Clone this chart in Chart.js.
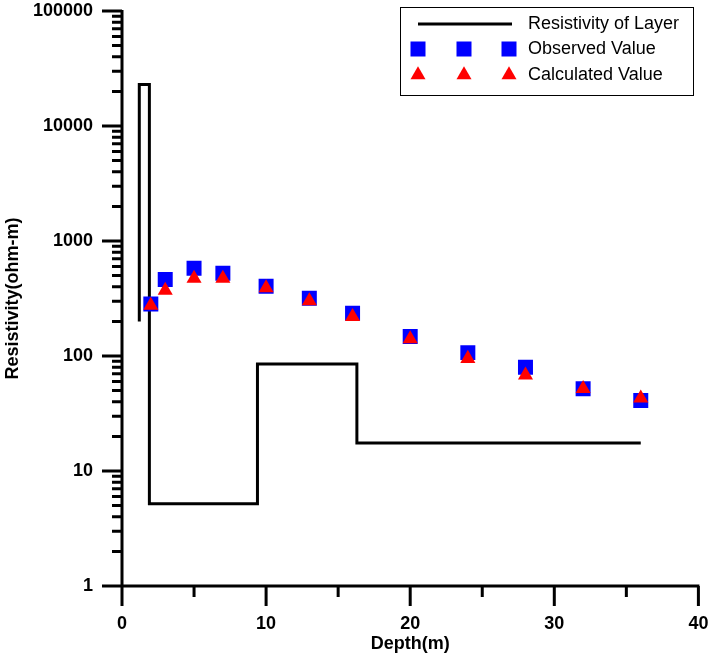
<!DOCTYPE html>
<html>
<head>
<meta charset="utf-8">
<script src="https://cdn.jsdelivr.net/npm/chart.js@4/dist/chart.umd.min.js"></script>
<style>
  html, body { margin: 0; padding: 0; background: #fff; }
  #wrap { width: 709px; height: 657px; }
</style>
</head>
<body>
<div id="wrap"><canvas id="resChart" width="709" height="657"></canvas></div>
<script>
// sounding data
var obsDepth = [2, 3, 5, 7, 10, 13, 16, 20, 24, 28, 32, 36];
var obsRes = [283, 462, 579, 524, 404, 318, 235, 148, 107, 80, 52, 41];
var calcRes = [275, 371, 473, 473, 391, 301, 220, 141, 95, 68, 52, 43];

// layer model (stepped line, vertical step first)
var layerDepth = [1.2, 1.9, 9.4, 16.3, 36];
var layerRes = [200, 23000, 5.2, 85, 17.5];

var xTicks = [0, 10, 20, 30, 40];
var xMinor = [5, 15, 25, 35];
var yTicks = [1, 10, 100, 1000, 10000, 100000];

var FONT = '"Liberation Sans", Arial, sans-serif';

function pts(xs, ys) {
    return xs.map(function(x, i) { return { x: x, y: ys[i] }; });
}

function noPad(scale) {
    scale.paddingTop = 0;
    scale.paddingBottom = 0;
    scale.paddingLeft = 0;
    scale.paddingRight = 0;
}

// thick axes with long major / short minor ticks, like the original plot
var axesPlugin = {
    id: 'axesPlugin',
    afterDraw: function(chart) {
        var ctx = chart.ctx;
        var xs = chart.scales.x, ys = chart.scales.y;
        var left = xs.getPixelForValue(0);
        var bottom = ys.getPixelForValue(1);
        ctx.save();
        ctx.strokeStyle = '#000';
        ctx.lineWidth = 3;
        ctx.lineCap = 'butt';
        ctx.beginPath();
        ctx.moveTo(left, ys.getPixelForValue(100000) - 1);
        ctx.lineTo(left, bottom);
        ctx.moveTo(left, bottom);
        ctx.lineTo(xs.getPixelForValue(40) + 1, bottom);
        // y ticks
        yTicks.forEach(function(v, i) {
            var p = ys.getPixelForValue(v);
            ctx.moveTo(left - 20, p);
            ctx.lineTo(left, p);
            if (i < yTicks.length - 1) {
                for (var m = 2; m <= 9; m++) {
                    var q = ys.getPixelForValue(v * m);
                    ctx.moveTo(left - 10, q);
                    ctx.lineTo(left, q);
                }
            }
        });
        // x ticks
        xTicks.forEach(function(v) {
            var p = xs.getPixelForValue(v);
            ctx.moveTo(p, bottom);
            ctx.lineTo(p, bottom + 20);
        });
        xMinor.forEach(function(v) {
            var p = xs.getPixelForValue(v);
            ctx.moveTo(p, bottom);
            ctx.lineTo(p, bottom + 11);
        });
        ctx.stroke();
        ctx.restore();
    }
};

// boxed legend with three markers per entry
var legendPlugin = {
    id: 'legendPlugin',
    afterDraw: function(chart) {
        var ctx = chart.ctx;
        ctx.save();
        ctx.strokeStyle = '#000';
        ctx.lineWidth = 1;
        ctx.strokeRect(400.5, 7.5, 293, 88);

        ctx.lineWidth = 3;
        ctx.beginPath();
        ctx.moveTo(418, 24);
        ctx.lineTo(512, 24);
        ctx.stroke();

        var mx = [418, 464, 509];
        ctx.fillStyle = '#0000ff';
        mx.forEach(function(x) { ctx.fillRect(x - 7.5, 49 - 7.5, 15, 15); });
        ctx.fillStyle = '#ff0000';
        mx.forEach(function(x) {
            ctx.beginPath();
            ctx.moveTo(x, 75 - 8.7);
            ctx.lineTo(x + 7.5, 75 + 4.3);
            ctx.lineTo(x - 7.5, 75 + 4.3);
            ctx.closePath();
            ctx.fill();
        });

        ctx.fillStyle = '#000';
        ctx.font = '18px ' + FONT;
        ctx.textBaseline = 'middle';
        ctx.textAlign = 'left';
        ctx.fillText('Resistivity of Layer', 528, 24);
        ctx.fillText('Observed Value', 528, 49);
        ctx.fillText('Calculated Value', 528, 75);
        ctx.restore();
    }
};

var ctx = document.getElementById('resChart').getContext('2d');
var resChart = new Chart(ctx, {
    type: 'scatter',
    data: {
        datasets: [{
            label: 'Calculated Value',
            data: pts(obsDepth, calcRes),
            pointStyle: 'triangle',
            pointRadius: 8.7,
            pointHoverRadius: 8.7,
            backgroundColor: '#ff0000',
            borderColor: '#ff0000',
            borderWidth: 0,
            order: 0
        }, {
            label: 'Observed Value',
            data: pts(obsDepth, obsRes),
            pointStyle: 'rect',
            pointRadius: 10.6,
            pointHoverRadius: 10.6,
            backgroundColor: '#0000ff',
            borderColor: '#0000ff',
            borderWidth: 0,
            order: 1
        }, {
            label: 'Resistivity of Layer',
            type: 'line',
            data: pts(layerDepth, layerRes),
            stepped: 'after',
            borderColor: '#000',
            borderWidth: 3,
            borderJoinStyle: 'miter',
            pointRadius: 0,
            fill: false,
            order: 2
        }]
    },
    options: {
        responsive: false,
        animation: false,
        devicePixelRatio: 1,
        layout: { padding: { top: 11, right: 10, left: 0, bottom: 0 } },
        plugins: {
            legend: { display: false },
            tooltip: { enabled: false }
        },
        scales: {
            x: {
                type: 'linear',
                min: 0,
                max: 40,
                afterBuildTicks: function(scale) {
                    scale.ticks = xTicks.map(function(v) { return { value: v }; });
                },
                afterFit: function(scale) { scale.height = 71; noPad(scale); },
                grid: { display: false, drawTicks: false },
                border: { display: false },
                ticks: {
                    color: '#000',
                    padding: 27,
                    maxRotation: 0,
                    font: { family: FONT, size: 18, weight: 'bold' }
                },
                title: {
                    display: true,
                    text: 'Depth(m)',
                    color: '#000',
                    padding: { top: 0, bottom: 2 },
                    font: { family: FONT, size: 18, weight: 'bold' }
                }
            },
            y: {
                type: 'logarithmic',
                min: 1,
                max: 100000,
                afterBuildTicks: function(scale) {
                    scale.ticks = yTicks.map(function(v) { return { value: v }; });
                },
                afterFit: function(scale) { scale.width = 122; noPad(scale); },
                grid: { display: false, drawTicks: false },
                border: { display: false },
                ticks: {
                    color: '#000',
                    padding: 29,
                    callback: function(v) { return String(v); },
                    font: { family: FONT, size: 18, weight: 'bold' }
                },
                title: {
                    display: true,
                    text: 'Resistivity(ohm-m)',
                    color: '#000',
                    padding: { top: 2, bottom: 0 },
                    font: { family: FONT, size: 18, weight: 'bold' }
                }
            }
        }
    },
    plugins: [axesPlugin, legendPlugin]
});
</script>
</body>
</html>
